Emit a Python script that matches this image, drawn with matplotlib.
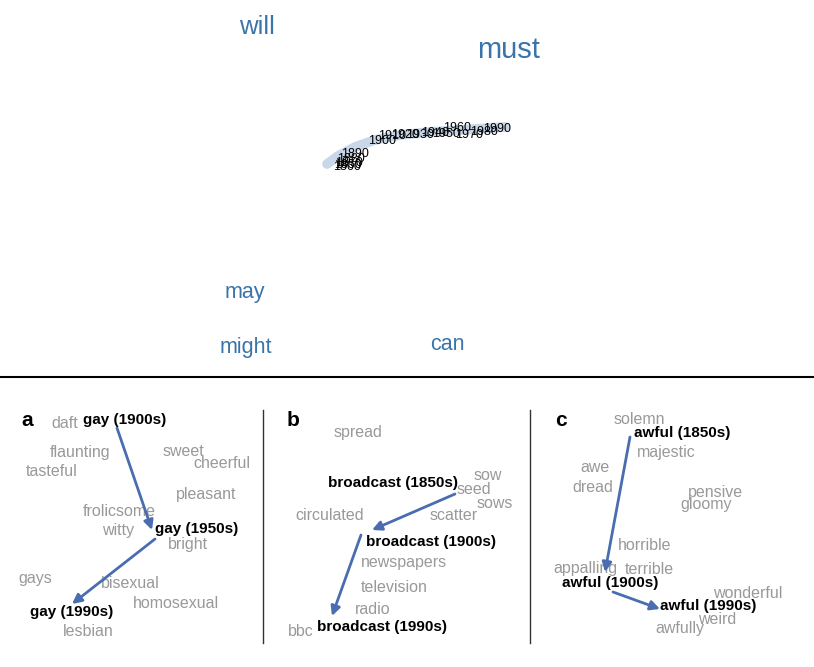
import matplotlib.pyplot as plt

plt.rcParams['font.family'] = ['Liberation Sans', 'DejaVu Sans']

# top: modal verbs and the trajectory of one word through the decades
modal_words = ['will', 'must', 'may', 'might', 'can']
modal_x = [257, 509, 245, 246, 447]
modal_y = [27, 50, 293, 348, 345]
modal_size = [18.5, 21, 15.5, 15.5, 15.5]

years = ['1850', '1860', '1870', '1880', '1890', '1900', '1910', '1920',
         '1930', '1940', '1950', '1960', '1970', '1980', '1990']
year_x = [334, 333, 335, 337, 341, 368, 378, 391, 406, 421, 432, 443, 455, 470, 483]
year_y = [165, 167, 163, 159, 154, 141, 136, 135, 135, 133, 134, 128, 135, 132, 129]

band_x = [327, 338, 355, 375, 400, 430, 460, 490, 505]
band_y = [164, 156, 147, 140, 135, 132, 130, 128, 127]

# bottom panels: (word, x, y, is_target)
panel_a = [
    ('daft', 65, 424, False), ('gay (1900s)', 125, 420, True),
    ('flaunting', 80, 452, False), ('sweet', 183, 451, False),
    ('cheerful', 222, 464, False), ('tasteful', 52, 472, False),
    ('pleasant', 206, 494, False), ('frolicsome', 119, 511, False),
    ('witty', 118, 530, False), ('gay (1950s)', 197, 529, True),
    ('bright', 188, 545, False), ('gays', 35, 578, False),
    ('bisexual', 130, 583, False), ('homosexual', 176, 603, False),
    ('gay (1990s)', 72, 612, True), ('lesbian', 88, 631, False),
]
arrows_a = [((117, 428), (152, 530)), ((155, 539), (72, 604))]

panel_b = [
    ('spread', 358, 433, False), ('broadcast (1850s)', 393, 483, True),
    ('sow', 488, 475, False), ('seed', 474, 489, False),
    ('sows', 495, 503, False), ('circulated', 330, 515, False),
    ('scatter', 454, 516, False), ('broadcast (1900s)', 431, 542, True),
    ('newspapers', 404, 563, False), ('television', 394, 588, False),
    ('radio', 373, 609, False), ('bbc', 301, 631, False),
    ('broadcast (1990s)', 382, 627, True),
]
arrows_b = [((455, 494), (372, 530)), ((361, 535), (332, 616))]

panel_c = [
    ('solemn', 639, 419, False), ('awful (1850s)', 682, 433, True),
    ('majestic', 666, 452, False), ('awe', 595, 468, False),
    ('dread', 593, 487, False), ('pensive', 715, 493, False),
    ('gloomy', 706, 504, False), ('horrible', 645, 546, False),
    ('appalling', 585, 568, False), ('terrible', 649, 569, False),
    ('awful (1900s)', 610, 583, True), ('wonderful', 748, 593, False),
    ('awful (1990s)', 708, 606, True), ('weird', 717, 619, False),
    ('awfully', 680, 628, False),
]
arrows_c = [((630, 437), (605, 572)), ((613, 592), (660, 609))]

W, H = 814, 667
fig = plt.figure(figsize=(W / 100, H / 100), dpi=100)


def add_region(x0, y0, x1, y1):
    ax = fig.add_axes([x0 / W, 1 - y1 / H, (x1 - x0) / W, (y1 - y0) / H])
    ax.set_xlim(x0, x1)
    ax.set_ylim(y1, y0)
    ax.axis('off')
    return ax


top = add_region(0, 0, W, 377)
top.plot(band_x, band_y, color='#c9d7e9', lw=7, solid_capstyle='round', zorder=1)
for w, x, y, s in zip(modal_words, modal_x, modal_y, modal_size):
    top.text(x, y, w, color='#3a74aa', fontsize=s, ha='center', va='center')
for yr, x, y in zip(years, year_x, year_y):
    top.text(x, y, yr, fontsize=9, ha='left', va='center', color='black', zorder=2)

# separators
fig.add_artist(plt.Line2D([0, 1], [1 - 377 / H, 1 - 377 / H], color='black', lw=1.5))
for xv in [263, 530]:
    fig.add_artist(plt.Line2D([xv / W, xv / W], [1 - 410 / H, 1 - 643 / H],
                              color='#333333', lw=1))

bounds = [(0, 263), (263, 530), (530, W)]
letters = [('a', 21), ('b', 287), ('c', 555)]
panels = [(panel_a, arrows_a), (panel_b, arrows_b), (panel_c, arrows_c)]

for (x0, x1), (letter, lx), (words, arrows) in zip(bounds, letters, panels):
    ax = add_region(x0, 378, x1, H)
    ax.text(lx, 420, letter, fontsize=15, fontweight='bold', ha='left', va='center')
    for w, x, y, target in words:
        if target:
            ax.text(x, y, w, fontsize=11, fontweight='bold', color='black',
                    ha='center', va='center', zorder=3)
        else:
            ax.text(x, y, w, fontsize=11.5, color='#999999',
                    ha='center', va='center', zorder=2)
    for (sx, sy), (ex, ey) in arrows:
        ax.annotate('', xy=(ex, ey), xytext=(sx, sy),
                    arrowprops=dict(arrowstyle='-|>', color='#4a6db0', lw=2,
                                    mutation_scale=14, shrinkA=0, shrinkB=0),
                    zorder=4)

fig.savefig('out.png', dpi=100)
